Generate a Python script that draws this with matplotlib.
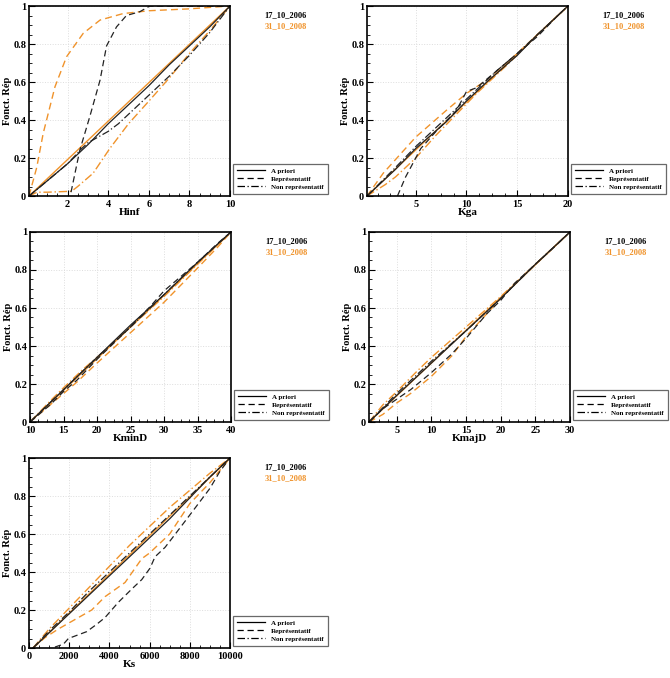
import matplotlib
matplotlib.use('Agg')
import matplotlib.pyplot as plt
from matplotlib.ticker import AutoMinorLocator
from matplotlib.lines import Line2D

plt.rcParams['font.family'] = ['Liberation Serif', 'DejaVu Serif']
plt.rcParams['font.weight'] = 'bold'

ORANGE = '#F0932B'

# ---- Hinf ----
hinf_apriori_06_x = [0.1, 1, 2, 3, 4, 5, 6, 7, 8, 9, 10]
hinf_apriori_06_y = [0.0, 0.08, 0.17, 0.27, 0.38, 0.48, 0.58, 0.69, 0.79, 0.89, 1.0]
hinf_apriori_08_x = [0.1, 10]
hinf_apriori_08_y = [0.0, 1.0]
hinf_rep_06_x = [2.17, 2.6, 3.1, 3.6, 3.92, 4.41, 4.9, 5.56, 6.05, 10]
hinf_rep_06_y = [0.02, 0.24, 0.42, 0.61, 0.79, 0.89, 0.95, 0.97, 1.0, 1.0]
hinf_rep_08_x = [0.1, 0.48, 0.8, 1.38, 1.95, 2.77, 3.6, 4.73, 6, 8, 10]
hinf_rep_08_y = [0.0, 0.15, 0.33, 0.575, 0.733, 0.856, 0.926, 0.96, 0.975, 0.985, 1.0]
hinf_non_06_x = [0.1, 1, 2, 2.7, 3, 3.5, 4, 4.5, 5, 5.5, 6, 6.5, 7, 8, 9, 10]
hinf_non_06_y = [0.0, 0.08, 0.17, 0.25, 0.28, 0.31, 0.34, 0.38, 0.43, 0.48, 0.53, 0.58, 0.63, 0.74, 0.86, 1.0]
hinf_non_08_x = [0.1, 0.5, 1, 2.2, 2.5, 3.26, 4.08, 5, 6.05, 7, 8, 9, 10]
hinf_non_08_y = [0.0, 0.02, 0.02, 0.025, 0.05, 0.12, 0.25, 0.38, 0.505, 0.62, 0.75, 0.87, 1.0]

# ---- Kga ----
kga_apriori_06_x = [0.2, 3, 5, 8, 10, 12, 15, 17, 20]
kga_apriori_06_y = [0.0, 0.14, 0.25, 0.39, 0.5, 0.6, 0.74, 0.85, 1.0]
kga_apriori_08_x = [0.2, 20]
kga_apriori_08_y = [0.0, 1.0]
kga_rep_06_x = [3.2, 4, 5, 5.5, 7, 9, 10, 11, 13, 15, 17, 19, 20]
kga_rep_06_y = [0.0, 0.1, 0.2, 0.25, 0.34, 0.45, 0.55, 0.57, 0.66, 0.75, 0.84, 0.95, 1.0]
kga_rep_08_x = [0.2, 1.8, 5, 8, 10, 12, 15, 18, 20]
kga_rep_08_y = [0.0, 0.12, 0.31, 0.45, 0.54, 0.61, 0.75, 0.9, 1.0]
kga_non_06_x = [0.2, 3, 5, 7, 9, 11, 13, 15, 17, 20]
kga_non_06_y = [0.0, 0.15, 0.26, 0.36, 0.46, 0.56, 0.66, 0.75, 0.85, 1.0]
kga_non_08_x = [0.2, 2, 3, 5, 7, 9, 11, 14, 17, 20]
kga_non_08_y = [0.0, 0.06, 0.1, 0.2, 0.32, 0.43, 0.54, 0.69, 0.85, 1.0]

# ---- KminD ----
kmin_apriori_06_x = [10, 15, 20, 25, 30, 35, 40]
kmin_apriori_06_y = [0.0, 0.17, 0.34, 0.51, 0.67, 0.84, 1.0]
kmin_apriori_08_x = [10, 40]
kmin_apriori_08_y = [0.0, 1.0]
kmin_rep_06_x = [10, 13, 15, 17, 20, 25, 28, 30, 33, 35, 38, 40]
kmin_rep_06_y = [0.0, 0.09, 0.16, 0.22, 0.33, 0.5, 0.61, 0.69, 0.78, 0.84, 0.94, 1.0]
kmin_rep_08_x = [10, 13, 17, 20, 25, 30, 35, 38, 40]
kmin_rep_08_y = [0.0, 0.09, 0.21, 0.31, 0.47, 0.63, 0.81, 0.92, 1.0]
kmin_non_06_x = [10, 15, 20, 25, 30, 35, 40]
kmin_non_06_y = [0.0, 0.17, 0.34, 0.5, 0.67, 0.84, 1.0]
kmin_non_08_x = [10, 13, 15, 18, 20, 25, 30, 35, 40]
kmin_non_08_y = [0.0, 0.11, 0.18, 0.28, 0.34, 0.5, 0.66, 0.83, 1.0]

# ---- KmajD ----
kmaj_apriori_06_x = [1, 5, 10, 15, 20, 25, 30]
kmaj_apriori_06_y = [0.0, 0.14, 0.31, 0.48, 0.65, 0.83, 1.0]
kmaj_apriori_08_x = [1, 30]
kmaj_apriori_08_y = [0.0, 1.0]
kmaj_rep_06_x = [1, 3, 5, 7, 10, 13, 15, 18, 20, 22, 25, 28, 30]
kmaj_rep_06_y = [0.0, 0.07, 0.12, 0.17, 0.26, 0.36, 0.44, 0.57, 0.64, 0.73, 0.83, 0.93, 1.0]
kmaj_rep_08_x = [1, 3, 5, 7, 10, 13, 15, 18, 20, 25, 30]
kmaj_rep_08_y = [0.0, 0.04, 0.1, 0.15, 0.24, 0.35, 0.45, 0.57, 0.65, 0.83, 1.0]
kmaj_non_06_x = [1, 5, 10, 15, 20, 25, 30]
kmaj_non_06_y = [0.0, 0.15, 0.32, 0.48, 0.65, 0.83, 1.0]
kmaj_non_08_x = [1, 3, 5, 8, 10, 15, 20, 25, 30]
kmaj_non_08_y = [0.0, 0.09, 0.16, 0.27, 0.34, 0.5, 0.66, 0.83, 1.0]

# ---- Ks ----
ks_apriori_06_x = [200, 1000, 2000, 3000, 4000, 5000, 6000, 7000, 8000, 9000, 10000]
ks_apriori_06_y = [0.0, 0.08, 0.18, 0.28, 0.38, 0.48, 0.58, 0.68, 0.79, 0.9, 1.0]
ks_apriori_08_x = [200, 10000]
ks_apriori_08_y = [0.0, 1.0]
ks_rep_06_x = [1290, 1710, 1960, 2870, 3370, 3780, 4440, 5110, 5610, 6020, 6270, 6770, 7100, 8000, 9000, 9500, 10000]
ks_rep_06_y = [0.005, 0.02, 0.05, 0.086, 0.125, 0.16, 0.24, 0.31, 0.36, 0.42, 0.48, 0.53, 0.575, 0.7, 0.84, 0.93, 1.0]
ks_rep_08_x = [200, 800, 1460, 2290, 3120, 3780, 4780, 5610, 6000, 7000, 8000, 9000, 10000]
ks_rep_08_y = [0.0, 0.055, 0.1, 0.15, 0.2, 0.27, 0.345, 0.47, 0.5, 0.6, 0.76, 0.87, 1.0]
ks_non_06_x = [200, 1000, 2000, 3000, 4000, 5000, 6000, 7000, 8000, 9000, 10000]
ks_non_06_y = [0.0, 0.09, 0.19, 0.3, 0.4, 0.5, 0.6, 0.7, 0.8, 0.9, 1.0]
ks_non_08_x = [200, 1000, 2000, 3000, 4000, 5000, 6000, 7000, 8000, 9000, 10000]
ks_non_08_y = [0.0, 0.1, 0.21, 0.32, 0.43, 0.54, 0.64, 0.74, 0.83, 0.92, 1.0]

panels = [
    ('Hinf', (0.1, 10), [2, 4, 6, 8, 10],
     [(hinf_apriori_06_x, hinf_apriori_06_y), (hinf_rep_06_x, hinf_rep_06_y), (hinf_non_06_x, hinf_non_06_y)],
     [(hinf_apriori_08_x, hinf_apriori_08_y), (hinf_rep_08_x, hinf_rep_08_y), (hinf_non_08_x, hinf_non_08_y)]),
    ('Kga', (0.2, 20), [5, 10, 15, 20],
     [(kga_apriori_06_x, kga_apriori_06_y), (kga_rep_06_x, kga_rep_06_y), (kga_non_06_x, kga_non_06_y)],
     [(kga_apriori_08_x, kga_apriori_08_y), (kga_rep_08_x, kga_rep_08_y), (kga_non_08_x, kga_non_08_y)]),
    ('KminD', (10, 40), [10, 15, 20, 25, 30, 35, 40],
     [(kmin_apriori_06_x, kmin_apriori_06_y), (kmin_rep_06_x, kmin_rep_06_y), (kmin_non_06_x, kmin_non_06_y)],
     [(kmin_apriori_08_x, kmin_apriori_08_y), (kmin_rep_08_x, kmin_rep_08_y), (kmin_non_08_x, kmin_non_08_y)]),
    ('KmajD', (1, 30), [5, 10, 15, 20, 25, 30],
     [(kmaj_apriori_06_x, kmaj_apriori_06_y), (kmaj_rep_06_x, kmaj_rep_06_y), (kmaj_non_06_x, kmaj_non_06_y)],
     [(kmaj_apriori_08_x, kmaj_apriori_08_y), (kmaj_rep_08_x, kmaj_rep_08_y), (kmaj_non_08_x, kmaj_non_08_y)]),
    ('Ks', (0, 10000), [0, 2000, 4000, 6000, 8000, 10000],
     [(ks_apriori_06_x, ks_apriori_06_y), (ks_rep_06_x, ks_rep_06_y), (ks_non_06_x, ks_non_06_y)],
     [(ks_apriori_08_x, ks_apriori_08_y), (ks_rep_08_x, ks_rep_08_y), (ks_non_08_x, ks_non_08_y)]),
]

legend_labels = ['A priori', 'Représentatif', 'Non représentatif']
styles = ['-', (0, (5, 3)), (0, (6, 2, 1, 2))]

# axes rectangles (pixel positions of the top-left corner, 201x190 px each)
W, H = 670, 678
boxes = [(29, 6), (367, 6), (30, 232), (369, 232), (29, 458)]

fig = plt.figure(figsize=(W / 100, H / 100), dpi=100)

for (name, xlim, xticks, s06, s08), (px, py) in zip(panels, boxes):
    ax = fig.add_axes([px / W, 1 - (py + 190) / H, 201 / W, 190 / H])
    for (x, y), ls in zip(s08, styles):
        ax.plot(x, y, color=ORANGE, linestyle=ls, linewidth=1.0)
    for (x, y), ls in zip(s06, styles):
        ax.plot(x, y, color='#222222', linestyle=ls, linewidth=0.9)
    ax.set_xlim(*xlim)
    ax.set_ylim(0, 1)
    ax.set_xticks(xticks)
    ax.set_yticks([0, 0.2, 0.4, 0.6, 0.8, 1])
    ax.set_yticklabels(['0', '0.2', '0.4', '0.6', '0.8', '1'])
    ax.xaxis.set_minor_locator(AutoMinorLocator(4))
    ax.yaxis.set_minor_locator(AutoMinorLocator(4))
    ax.tick_params(which='both', direction='in', labelsize=7.5)
    ax.tick_params(axis='y', pad=2)
    ax.tick_params(axis='x', pad=3)
    ax.tick_params(which='major', length=4, width=0.8)
    ax.tick_params(which='minor', length=2, width=0.6)
    for lbl in ax.get_xticklabels() + ax.get_yticklabels():
        lbl.set_fontweight('bold')
    ax.grid(True, which='major', linestyle=':', color='#dddddd', linewidth=0.7)
    for sp in ax.spines.values():
        sp.set_linewidth(1.2)
    ax.set_xlabel(name, fontsize=8, fontweight='bold', labelpad=-1)
    ax.set_ylabel('Fonct. Rép', fontsize=7.5, fontweight='bold', labelpad=1)

    handles = [Line2D([], [], color='black', linestyle=ls, linewidth=0.9) for ls in styles]
    leg = ax.legend(handles, legend_labels, loc='lower left', bbox_to_anchor=(1.005, 0.0),
                    fontsize=5, frameon=True, fancybox=False, edgecolor='#444444',
                    handlelength=4.0, borderpad=0.6, labelspacing=0.3, handletextpad=0.9,
                    borderaxespad=0.3)
    leg.get_frame().set_linewidth(0.9)

    ax.text(1.17, 0.95, '17_10_2006', transform=ax.transAxes, fontsize=6, fontweight='bold',
            color='black', va='center')
    ax.text(1.17, 0.895, '31_10_2008', transform=ax.transAxes, fontsize=6, fontweight='bold',
            color=ORANGE, va='center')

fig.savefig('out.png', dpi=100)
